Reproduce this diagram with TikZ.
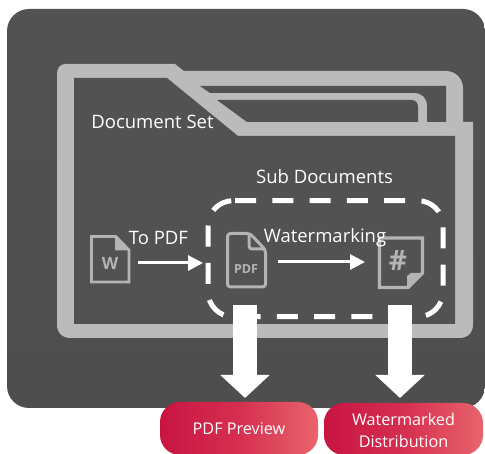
\documentclass[tikz,border=0pt]{standalone}
\usepackage{fontspec}
\setmainfont{Open Sans}
\newfontfamily\uifont{Open Sans}
\usetikzlibrary{arrows.meta}
\definecolor{panel}{HTML}{525252}
\definecolor{folder}{HTML}{BBBBBB}
\definecolor{iconc}{HTML}{B4B4B4}
\definecolor{redL}{HTML}{C81442}
\definecolor{redM}{HTML}{D62F50}
\definecolor{redR}{HTML}{E8646C}
\tikzset{
  lbl/.style={text=white,inner sep=0pt,font=\fontsize{18.5}{20}\selectfont},
  btnlbl/.style={text=white,inner sep=0pt,align=center,font=\uifont\fontsize{16.2}{22}\selectfont},
  smallarrow/.style={draw=white,line width=3pt,-{Triangle[width=15pt,length=15pt]}},
  bigarrow/.style={draw=white,line width=24pt,-{Triangle[width=48pt,length=23pt]}},
  iconline/.style={draw=iconc,line width=3pt,line join=round},
  icontxt/.style={text=iconc,inner sep=0pt,font=\uifont\bfseries}
}
\begin{document}
\begin{tikzpicture}[x=1pt,y=-1pt]
\useasboundingbox (0,0) rectangle (485,454);
% panel
\shade[top color=panel,bottom color=panel!95!black,rounded corners=22pt] (7,9) rectangle (485,408);
% folder outline
\fill[folder,rounded corners=17pt] (150,71) rectangle (463,140);
\fill[folder] (64,64) -- (175,64) -- (247,122) -- (473,122) -- (473,324) .. controls (473,333) and (468,338) .. (459,338) -- (71,338) .. controls (62,338) and (57,333) .. (57,324) -- (57,74) .. controls (57,68) and (60,64) .. (66,64) -- cycle;
\fill[panel] (74,78) -- (167,78) -- (238,136) -- (455,136) -- (455,324) -- (74,324) -- cycle;
\fill[panel] (200,86) -- (446,86) -- (446,122) -- (427,122) -- (427,106) .. controls (427,98) and (422,93) .. (414,93) -- (210,93) -- cycle;
\fill[panel] (217,100) -- (411,100) .. controls (416,100) and (418,103) .. (418,107) -- (418,122) -- (247,122) -- cycle;
% dashed group
\draw[white,line width=5pt,dash pattern=on 21pt off 16.3pt,rounded corners=25pt] (235,200.7) -- (443,200.7) -- (443,316.7) -- (208,316.7) -- (208,200.7) -- (235,200.7);
% labels
\node[lbl] (docset) at (152.5,122) {Document Set};
\node[lbl] (subdocs) at (324.5,177) {Sub Documents};
% Word icon
\draw[iconline,line width=2.6pt,line join=miter] (91.5,236.5) -- (116,236.5) -- (129,250) -- (129,282) -- (91.5,282) -- cycle;
\fill[iconc] (115,235.5) -- (130,250.5) -- (115,250.5) -- cycle;
\node[icontxt,font=\uifont\bfseries\fontsize{17}{17}\selectfont] (wglyph) at (110,263) {W};
% PDF icon
\draw[iconline,rounded corners=3pt] (227.5,233.5) -- (250,233.5) -- (265.5,250) -- (265.5,287) -- (227.5,287) -- cycle;
\draw[iconline,rounded corners=3pt] (249,234) -- (249,249) -- (265,249);
\node[icontxt,font=\uifont\bfseries\fontsize{12.5}{12.5}\selectfont] (pdfglyph) at (246,269) {PDF};
% Hash icon
\draw[iconline,line width=3.4pt,line join=miter] (379.5,238) -- (422.5,238) -- (422.5,273) -- (408,287.5) -- (379.5,287.5) -- cycle;
\fill[iconc] (407,289) -- (407,276) -- (411,273) -- (424,273) -- cycle;
\node[icontxt,font=\uifont\bfseries\fontsize{28}{28}\selectfont] (hashglyph) at (398,261) {\#};
% small arrows
\coordinate (a1s) at (138,263);
\coordinate (a1e) at (203,263);
\coordinate (a2s) at (278,262);
\coordinate (a2e) at (365,262);
\draw[smallarrow] (a1s) -- (a1e);
\draw[smallarrow] (a2s) -- (a2e);
\node[lbl] (topdf) at (158.5,238) {To PDF};
\node[lbl] (wm) at (325,238) {Watermarking};
% buttons
\shade[left color=redL,right color=redR,middle color=redM,rounded corners=20pt] (160,402) rectangle (318,455);
\shade[left color=redL,right color=redR,middle color=redM,rounded corners=20pt] (324,403) rectangle (483,455);
\node[btnlbl] (prev) at (239,429) {PDF Preview};
\node[btnlbl] (dist) at (403.5,430) {Watermarked\\Distribution};
% big arrows
\coordinate (b1s) at (245,305);
\coordinate (b1e) at (245,398);
\coordinate (b2s) at (400,305);
\coordinate (b2e) at (400,398);
\draw[bigarrow] (b1s) -- (b1e);
\draw[bigarrow] (b2s) -- (b2e);
\end{tikzpicture}
\end{document}
